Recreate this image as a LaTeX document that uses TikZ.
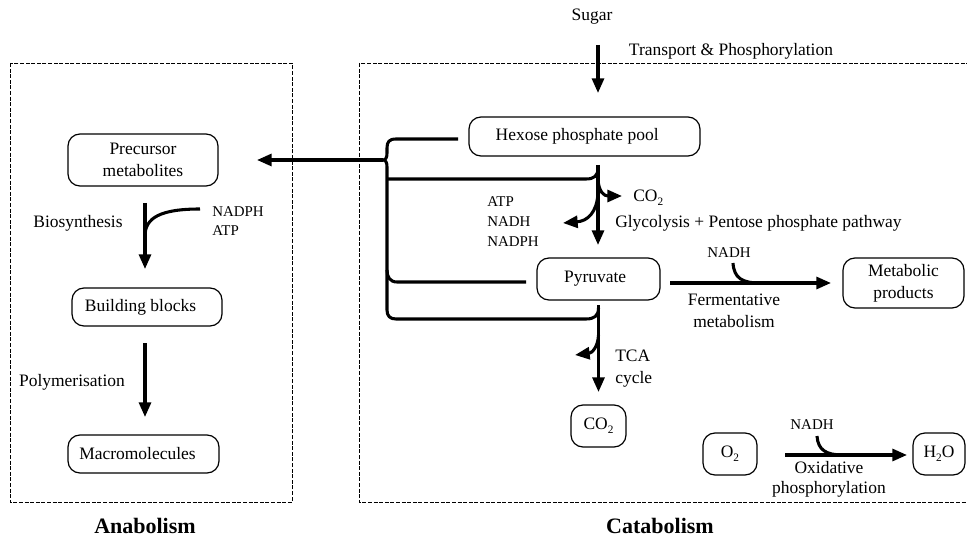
\documentclass[tikz,border=0pt]{standalone}
\usepackage{fontspec}
\setmainfont{Liberation Serif}
\usetikzlibrary{arrows.meta}
\newcommand{\mainsz}{\fontsize{13.1}{16.5}\selectfont}
\newcommand{\smallsz}{\fontsize{11.2}{15}\selectfont}
\newcommand{\titlesz}{\fontsize{16.5}{19}\selectfont\bfseries}
\newcommand{\lowtwo}{\raisebox{-0.55ex}{\fontsize{8.5}{8.5}\selectfont 2}}
\begin{document}
\begin{tikzpicture}[x=0.75pt,y=-0.75pt,
  box/.style={draw, rounded corners=9pt, line width=0.9pt, align=center, inner sep=0pt, font=\mainsz},
  region/.style={draw, line width=0.7pt, dash pattern=on 3pt off 1.2pt},
  flow/.style={line width=2.3pt},
  arr/.style={flow, -{Triangle[length=11pt,width=9pt]}},
  lbl/.style={font=\mainsz, align=center, inner sep=0pt},
  small/.style={font=\smallsz, align=left, inner sep=0pt},
  title/.style={font=\titlesz, inner sep=0pt}]
\useasboundingbox (0,0) rectangle (967,538);
\clip (0,0) rectangle (967,538);

% regions
\draw[region] (10,63) rectangle (292,502);
\draw[region] (359,63) rectangle (990,502);

% anabolism boxes
\node[box, minimum width=112.5pt, minimum height=39pt] (prec) at (143,160) {Precursor\\metabolites\hspace{4pt}};
\node[box, minimum width=112.5pt, minimum height=28.5pt] (build) at (147,307) {Building blocks\hspace{9.75pt}};
\node[box, minimum width=113.25pt, minimum height=28.5pt] (macro) at (143.5,454) {Macromolecules\hspace{9pt}};

% catabolism boxes
\node[box, minimum width=173.25pt, minimum height=29.25pt] (hex) at (584.5,136.5) {Hexose phosphate pool\hspace{11pt}};
\node[box, minimum width=92.25pt, minimum height=31.5pt] (pyr) at (598.5,279) {Pyruvate\hspace{5pt}};
\node[box, minimum width=90.75pt, minimum height=37.5pt] (prod) at (903.5,283) {Metabolic\\products};
\node[box, minimum width=41.25pt, minimum height=31.5pt] (co2) at (598.5,426) {CO\lowtwo};
\node[box, minimum width=40.5pt, minimum height=31.5pt] (o2) at (730,454) {O\lowtwo};
\node[box, minimum width=39pt, minimum height=31.5pt] (h2o) at (939,454) {H\lowtwo O};

% sugar uptake
\node[lbl] (sugar) at (592,17) {Sugar};
\node[lbl] (transport) at (731,51) {Transport \& Phosphorylation};
\coordinate (sIn) at (598,45);
\coordinate (sOut) at (598,93);
\draw[arr] (sIn) -- (sOut);

% glycolysis
\coordinate (gTop) at (598,165);
\coordinate (gEnd) at (598,245);
\draw[arr] (gTop) -- (gEnd);
\coordinate (co2a) at (598,180);
\coordinate (co2b) at (622,196);
\draw[arr] (co2a) .. controls (599,192) and (604,196) .. (co2b);
\coordinate (atpa) at (598,193);
\coordinate (atpb) at (563,223);
\draw[arr] (atpa) .. controls (597,212) and (588,221) .. (atpb);
\node[lbl, anchor=west] (co2lbl) at (633,198) {CO\lowtwo};
\node[small, anchor=west] (energy) at (487,222) {ATP\\NADH\\NADPH};
\node[lbl, anchor=west] (glyc) at (615,223) {Glycolysis + Pentose phosphate pathway};

% TCA cycle
\coordinate (tTop) at (598.5,305);
\coordinate (tEnd) at (598.5,392);
\draw[arr] (tTop) -- (tEnd);
\coordinate (tcaa) at (598.5,335);
\coordinate (tcab) at (575,355);
\draw[arr] (tcaa) .. controls (598,347) and (592,353) .. (tcab);
\node[lbl, anchor=west, align=left] (tca) at (615,369) {TCA\\cycle};

% fermentation
\coordinate (fIn) at (670,283);
\coordinate (fOut) at (831,283);
\draw[arr] (fIn) -- (fOut);
\coordinate (fa) at (733,263);
\coordinate (fb) at (760,283);
\draw[flow] (fa) .. controls (734,278) and (742,283) .. (fb);
\node[small] (fnadh) at (729,253) {NADH};
\node[lbl] (ferm) at (734,311) {Fermentative\\metabolism};

% oxidative phosphorylation
\coordinate (oIn) at (785,455);
\coordinate (oOut) at (907,455);
\draw[arr] (oIn) -- (oOut);
\coordinate (oa) at (817,436);
\coordinate (ob) at (843,455);
\draw[flow] (oa) .. controls (818,450) and (826,455) .. (ob);
\node[small] (onadh) at (812,425) {NADH};
\node[lbl, font=\fontsize{13.1}{15}\selectfont] (oxid) at (829,479) {Oxidative\\phosphorylation};

% branch collector feeding the precursor pool
\coordinate (tip) at (383,160);
\coordinate (pIn) at (257,160);
\draw[arr] (tip) -- (pIn);
\draw[flow, line join=round] (458,139) -- (396,139) .. controls (389,139) and (387,142) .. (387,148)
  -- (387,153) .. controls (387,157) and (386,160) .. (tip)
  .. controls (386,160) and (387,163) .. (387,167) -- (387,310)
  .. controls (387,316) and (390,319) .. (396,319) -- (586,319)
  .. controls (594,319) and (598.5,316) .. (598.5,308);
\draw[flow] (387,179) -- (586,179) .. controls (594,179) and (598,176) .. (598,168);
\draw[flow] (387,270) .. controls (387,277) and (390,282) .. (397,282) -- (526,282);

% biosynthesis
\coordinate (bIn) at (145,203);
\coordinate (bOut) at (145,269);
\draw[arr] (bIn) -- (bOut);
\coordinate (ba) at (200,209);
\coordinate (bb) at (145,236);
\draw[flow] (ba) .. controls (160,209) and (145,218) .. (bb);
\node[lbl] (bios) at (78,223) {Biosynthesis};
\node[small, anchor=west, font=\fontsize{11.2}{14.3}\selectfont] (bsrc) at (212,221) {NADPH\\ATP};

% polymerisation
\coordinate (mIn) at (145,343);
\coordinate (mOut) at (145,417);
\draw[arr] (mIn) -- (mOut);
\node[lbl] (poly) at (72,382) {Polymerisation};

% titles
\node[title] (ana) at (145,526) {Anabolism};
\node[title] (cata) at (660,526) {Catabolism};
\end{tikzpicture}
\end{document}
